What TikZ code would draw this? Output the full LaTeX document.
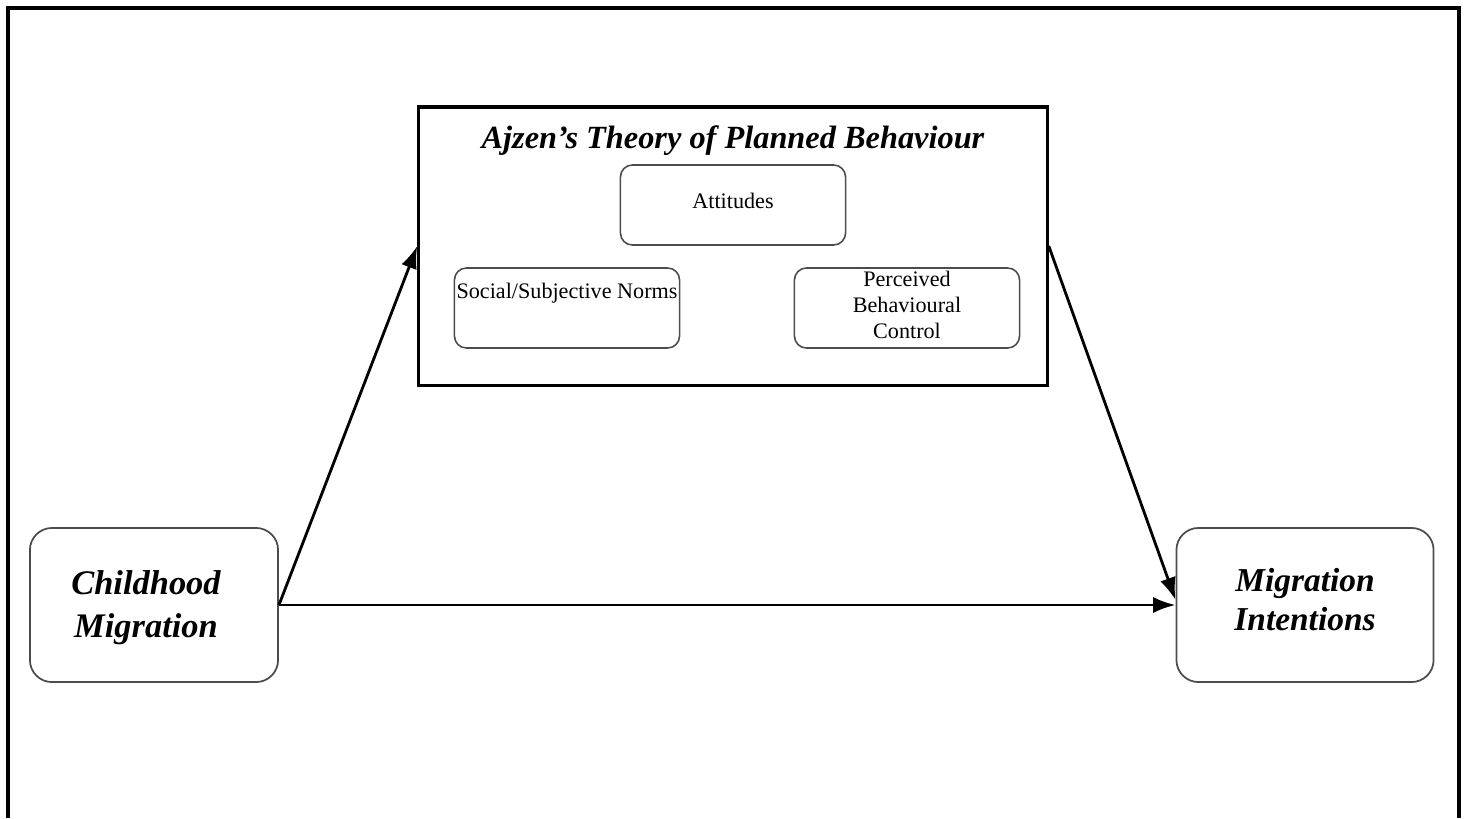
\documentclass[tikz,border=0pt]{standalone}
\usepackage{fontspec}
\setmainfont{Liberation Serif}
\usetikzlibrary{arrows.meta}

\begin{document}
\begin{tikzpicture}[> = {Latex[length = 6.4pt, width = 4.6pt]}, x = 0.01cm, y = -0.01cm,
	theory/.style = {draw, line width = 0.9pt, minimum width = 6.28cm, minimum height = 2.78cm},
	factor/.style = {draw = gray!60!black, rounded corners = 0.12cm, line width = 0.45pt, minimum width = 2.25cm, minimum height = 0.8cm},
	stage/.style = {draw = gray!60!black, rounded corners = 0.22cm, line width = 0.5pt, minimum height = 1.54cm},
	stagetext/.style = {align = center, inner sep = 0pt},
	small/.style = {font = \fontsize{6.3}{7.4}\selectfont, align = center, inner sep = 0pt},
	link/.style = {->, line width = 0.8pt}]

	% Page + frame

	\useasboundingbox (0, 0) rectangle (1464, 818);
	\draw [line width = 1pt] (8, 818) -- (8, 8) -- (1459, 8) -- (1459, 818);

	% Theory box

	\node [theory] (tpb) at (733, 246) {};
	\node [inner sep = 0pt, font = \fontsize{9.2}{11}\selectfont\bfseries\itshape] (title) at (733, 141) {Ajzen’s Theory of Planned Behaviour};

	\node [factor] (att) at (733, 205) {};
	\node [small] (attlabel) at (733, 201) {Attitudes};

	\node [factor] (norms) at (567, 308) {};
	\node [small] (normslabel) at (567, 293) {Social/Subjective Norms};

	\node [factor] (pbc) at (907, 308) {};
	\node [small] (pbclabel) at (907, 305) {Perceived\\Behavioural\\Control};

	% Start + end

	\node [stage, minimum width = 2.48cm] (child) at (154, 605) {};
	\node [stagetext, font = \fontsize{9.8}{12.2}\selectfont\bfseries\itshape] (childlabel) at (146, 608) {Childhood\\Migration};

	\node [stage, minimum width = 2.57cm] (intent) at (1305, 605) {};
	\node [stagetext, font = \fontsize{9.5}{11.1}\selectfont\bfseries\itshape] (intentlabel) at (1305, 600) {Migration\\Intentions};

	% Arrows

	\draw [link] (child.east) -- (tpb.west);
	\draw [link] (tpb.east) -- ([yshift = 0.05cm] intent.west);
	\draw [link] (child.east) -- (intent.west);

\end{tikzpicture}
\end{document}
